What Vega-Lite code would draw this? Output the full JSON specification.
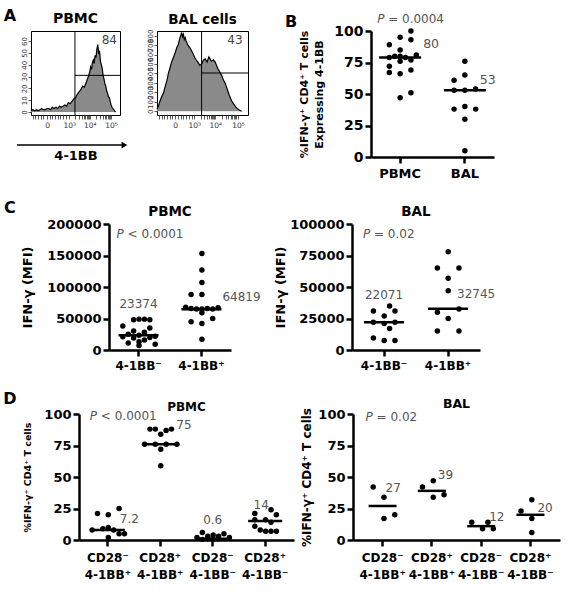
{
  "$schema": "https://vega.github.io/schema/vega-lite/v6.json",
  "padding": {"left": 2, "top": 7, "right": 3, "bottom": 3},
  "background": "white",
  "config": {
    "font": "DejaVu Sans",
    "view": {"stroke": null},
    "axis": {"grid": false, "labelOverlap": false, "labelFont": "DejaVu Sans", "labelFontWeight": "bold", "labelColor": "black", "labelFontSize": 13, "titleFont": "DejaVu Sans", "titleFontWeight": "bold", "titleColor": "black", "domainColor": "black", "domainWidth": 2.5, "tickColor": "black", "tickWidth": 2.5, "tickSize": 6, "labelPadding": 2},
    "axisX": {"labelAngle": 0},
    "title": {"font": "DejaVu Sans", "fontWeight": "bold", "color": "black"},
    "text": {"font": "DejaVu Sans"},
    "tick": {"opacity": 1}
  },
  "datasets": {
    "one": [{}],
    "none": [],
    "histPBMC": [
      {"u":0,"count":1},{"u":2,"count":2},{"u":4,"count":1},{"u":6,"count":2},{"u":8,"count":1},{"u":10,"count":2},{"u":12,"count":3},{"u":14,"count":2},{"u":16,"count":2},{"u":18,"count":3},{"u":20,"count":3},{"u":22,"count":2},{"u":24,"count":4},{"u":26,"count":3},{"u":28,"count":4},{"u":30,"count":3},{"u":32,"count":5},{"u":34,"count":4},{"u":36,"count":5},{"u":38,"count":6},{"u":40,"count":5},{"u":42,"count":8},{"u":44,"count":7},{"u":46,"count":9},{"u":48,"count":11},{"u":50,"count":12},{"u":52,"count":15},{"u":54,"count":17},{"u":56,"count":19},{"u":58,"count":22},{"u":60,"count":21},{"u":62,"count":25},{"u":64,"count":29},{"u":66,"count":34},{"u":67,"count":38},{"u":68,"count":36},{"u":69,"count":42},{"u":70,"count":44},{"u":71,"count":41},{"u":72,"count":48},{"u":73,"count":46},{"u":74,"count":53},{"u":75,"count":57},{"u":76,"count":50},{"u":77,"count":51},{"u":78,"count":43},{"u":79,"count":40},{"u":80,"count":37},{"u":81,"count":31},{"u":82,"count":28},{"u":83,"count":24},{"u":84,"count":22},{"u":85,"count":18},{"u":86,"count":16},{"u":87,"count":13},{"u":88,"count":12},{"u":89,"count":9},{"u":90,"count":6},{"u":91,"count":4},{"u":92,"count":3},{"u":93,"count":2},{"u":94,"count":1},{"u":95,"count":0}
    ],
    "histBAL": [
      {"u":0,"count":20},{"u":1.5,"count":52},{"u":3,"count":100},{"u":5,"count":150},{"u":7,"count":190},{"u":9,"count":260},{"u":11,"count":330},{"u":12.5,"count":400},{"u":14,"count":450},{"u":16,"count":520},{"u":18,"count":570},{"u":20,"count":620},{"u":22,"count":680},{"u":23.5,"count":710},{"u":25,"count":770},{"u":26,"count":800},{"u":27,"count":835},{"u":28,"count":790},{"u":29,"count":815},{"u":30,"count":760},{"u":31,"count":780},{"u":32,"count":740},{"u":34,"count":700},{"u":36,"count":675},{"u":38,"count":640},{"u":40,"count":600},{"u":41.5,"count":570},{"u":43,"count":545},{"u":45,"count":520},{"u":47,"count":485},{"u":49,"count":500},{"u":51,"count":540},{"u":53,"count":555},{"u":55,"count":520},{"u":57,"count":575},{"u":58,"count":560},{"u":60,"count":530},{"u":62,"count":545},{"u":64,"count":520},{"u":66,"count":470},{"u":67,"count":450},{"u":69,"count":415},{"u":71,"count":380},{"u":73,"count":330},{"u":75,"count":295},{"u":77,"count":240},{"u":79,"count":180},{"u":80,"count":155},{"u":82,"count":110},{"u":84,"count":80},{"u":86,"count":52},{"u":88,"count":30},{"u":90,"count":15},{"u":92,"count":5},{"u":93,"count":0}
    ],
    "gates": [{"panel":"PBMC","u":49.4,"count":31,"pct":"84"},{"panel":"BAL","u":49,"count":405,"pct":"43"}],
    "bPts": [
      {"group":"PBMC","value":100,"slot":2},{"group":"PBMC","value":95,"slot":0},{"group":"PBMC","value":93,"slot":2},{"group":"PBMC","value":89,"slot":-2},{"group":"PBMC","value":85,"slot":0},{"group":"PBMC","value":81,"slot":3},{"group":"PBMC","value":80,"slot":-1},{"group":"PBMC","value":80,"slot":0},{"group":"PBMC","value":79,"slot":-2},{"group":"PBMC","value":79,"slot":1},{"group":"PBMC","value":77,"slot":2},{"group":"PBMC","value":76,"slot":0},{"group":"PBMC","value":72,"slot":-2},{"group":"PBMC","value":69,"slot":2},{"group":"PBMC","value":67,"slot":-2},{"group":"PBMC","value":66,"slot":0},{"group":"PBMC","value":51,"slot":2},{"group":"PBMC","value":47,"slot":0},
      {"group":"BAL","value":76,"slot":0},{"group":"BAL","value":65,"slot":0},{"group":"BAL","value":61,"slot":-2},{"group":"BAL","value":54,"slot":2},{"group":"BAL","value":53,"slot":-2},{"group":"BAL","value":53,"slot":0},{"group":"BAL","value":40,"slot":0},{"group":"BAL","value":38,"slot":-2},{"group":"BAL","value":38,"slot":2},{"group":"BAL","value":30,"slot":0},{"group":"BAL","value":5,"slot":0}
    ],
    "bMed": [{"group":"PBMC","value":79,"label":"80"},{"group":"BAL","value":53,"label":"53"}],
    "cPbmcPts": [
      {"group":"4-1BB⁻","value":48000,"slot":-1},{"group":"4-1BB⁻","value":49000,"slot":0},{"group":"4-1BB⁻","value":49000,"slot":1},{"group":"4-1BB⁻","value":48000,"slot":2},{"group":"4-1BB⁻","value":38000,"slot":-3},{"group":"4-1BB⁻","value":35000,"slot":2},{"group":"4-1BB⁻","value":30000,"slot":-1},{"group":"4-1BB⁻","value":28000,"slot":1},{"group":"4-1BB⁻","value":25000,"slot":-2},{"group":"4-1BB⁻","value":23374,"slot":0},{"group":"4-1BB⁻","value":22000,"slot":3},{"group":"4-1BB⁻","value":21000,"slot":-3},{"group":"4-1BB⁻","value":20000,"slot":2},{"group":"4-1BB⁻","value":19000,"slot":-1},{"group":"4-1BB⁻","value":16000,"slot":1},{"group":"4-1BB⁻","value":13000,"slot":0},{"group":"4-1BB⁻","value":11000,"slot":-2},{"group":"4-1BB⁻","value":9000,"slot":3},{"group":"4-1BB⁻","value":7000,"slot":0},
      {"group":"4-1BB⁺","value":153000,"slot":0},{"group":"4-1BB⁺","value":127000,"slot":0},{"group":"4-1BB⁺","value":107000,"slot":0},{"group":"4-1BB⁺","value":88000,"slot":-2},{"group":"4-1BB⁺","value":88000,"slot":0},{"group":"4-1BB⁺","value":68000,"slot":-3},{"group":"4-1BB⁺","value":66000,"slot":-2},{"group":"4-1BB⁺","value":65000,"slot":-1},{"group":"4-1BB⁺","value":65000,"slot":0},{"group":"4-1BB⁺","value":66000,"slot":1},{"group":"4-1BB⁺","value":65000,"slot":2},{"group":"4-1BB⁺","value":67000,"slot":3},{"group":"4-1BB⁺","value":59000,"slot":0},{"group":"4-1BB⁺","value":50000,"slot":2},{"group":"4-1BB⁺","value":45000,"slot":-2},{"group":"4-1BB⁺","value":42000,"slot":0},{"group":"4-1BB⁺","value":17000,"slot":0}
    ],
    "cPbmcMed": [{"group":"4-1BB⁻","value":23374,"label":"23374"},{"group":"4-1BB⁺","value":64819,"label":"64819"}],
    "cBalPts": [
      {"group":"4-1BB⁻","value":35000,"slot":1},{"group":"4-1BB⁻","value":31000,"slot":-2},{"group":"4-1BB⁻","value":31000,"slot":2},{"group":"4-1BB⁻","value":27000,"slot":0},{"group":"4-1BB⁻","value":22000,"slot":2},{"group":"4-1BB⁻","value":22000,"slot":-2},{"group":"4-1BB⁻","value":21000,"slot":0},{"group":"4-1BB⁻","value":17000,"slot":1},{"group":"4-1BB⁻","value":9500,"slot":-2},{"group":"4-1BB⁻","value":7500,"slot":0},{"group":"4-1BB⁻","value":7500,"slot":2},
      {"group":"4-1BB⁺","value":78000,"slot":0},{"group":"4-1BB⁺","value":65000,"slot":-2},{"group":"4-1BB⁺","value":65000,"slot":2},{"group":"4-1BB⁺","value":57000,"slot":0},{"group":"4-1BB⁺","value":47000,"slot":0},{"group":"4-1BB⁺","value":30000,"slot":-2},{"group":"4-1BB⁺","value":32500,"slot":2},{"group":"4-1BB⁺","value":25000,"slot":0},{"group":"4-1BB⁺","value":15000,"slot":-2},{"group":"4-1BB⁺","value":15000,"slot":2}
    ],
    "cBalMed": [{"group":"4-1BB⁻","value":22071,"label":"22071"},{"group":"4-1BB⁺","value":32745,"label":"32745"}],
    "dPbmcPts": [
      {"group":"CD28⁻ 4-1BB⁺","value":25,"slot":2},{"group":"CD28⁻ 4-1BB⁺","value":21,"slot":-2},{"group":"CD28⁻ 4-1BB⁺","value":20,"slot":0},{"group":"CD28⁻ 4-1BB⁺","value":10,"slot":0},{"group":"CD28⁻ 4-1BB⁺","value":9,"slot":-1},{"group":"CD28⁻ 4-1BB⁺","value":8,"slot":-3},{"group":"CD28⁻ 4-1BB⁺","value":8,"slot":1},{"group":"CD28⁻ 4-1BB⁺","value":5,"slot":2},{"group":"CD28⁻ 4-1BB⁺","value":5,"slot":3},{"group":"CD28⁻ 4-1BB⁺","value":2,"slot":0},
      {"group":"CD28⁺ 4-1BB⁺","value":88,"slot":-2},{"group":"CD28⁺ 4-1BB⁺","value":88,"slot":-1},{"group":"CD28⁺ 4-1BB⁺","value":87,"slot":1},{"group":"CD28⁺ 4-1BB⁺","value":88,"slot":2},{"group":"CD28⁺ 4-1BB⁺","value":84,"slot":0},{"group":"CD28⁺ 4-1BB⁺","value":76,"slot":-3},{"group":"CD28⁺ 4-1BB⁺","value":76,"slot":-1},{"group":"CD28⁺ 4-1BB⁺","value":76,"slot":1},{"group":"CD28⁺ 4-1BB⁺","value":76,"slot":3},{"group":"CD28⁺ 4-1BB⁺","value":72,"slot":0},{"group":"CD28⁺ 4-1BB⁺","value":59,"slot":0},
      {"group":"CD28⁻ 4-1BB⁻","value":6,"slot":-2},{"group":"CD28⁻ 4-1BB⁻","value":5,"slot":2},{"group":"CD28⁻ 4-1BB⁻","value":4,"slot":0},{"group":"CD28⁻ 4-1BB⁻","value":3,"slot":-1},{"group":"CD28⁻ 4-1BB⁻","value":3,"slot":1},{"group":"CD28⁻ 4-1BB⁻","value":2,"slot":-3},{"group":"CD28⁻ 4-1BB⁻","value":2,"slot":3},{"group":"CD28⁻ 4-1BB⁻","value":1,"slot":-1},{"group":"CD28⁻ 4-1BB⁻","value":1,"slot":1},{"group":"CD28⁻ 4-1BB⁻","value":0.6,"slot":0},{"group":"CD28⁻ 4-1BB⁻","value":0.5,"slot":-2},
      {"group":"CD28⁺ 4-1BB⁻","value":24,"slot":1},{"group":"CD28⁺ 4-1BB⁻","value":21,"slot":-2},{"group":"CD28⁺ 4-1BB⁻","value":20,"slot":2},{"group":"CD28⁺ 4-1BB⁻","value":16,"slot":-2},{"group":"CD28⁺ 4-1BB⁻","value":16,"slot":0},{"group":"CD28⁺ 4-1BB⁻","value":14,"slot":1},{"group":"CD28⁺ 4-1BB⁻","value":11,"slot":-2},{"group":"CD28⁺ 4-1BB⁻","value":8,"slot":-1},{"group":"CD28⁺ 4-1BB⁻","value":7,"slot":0},{"group":"CD28⁺ 4-1BB⁻","value":7,"slot":1},{"group":"CD28⁺ 4-1BB⁻","value":7,"slot":2}
    ],
    "dPbmcMed": [{"group":"CD28⁻ 4-1BB⁺","value":8,"label":"7.2"},{"group":"CD28⁺ 4-1BB⁺","value":76,"label":"75"},{"group":"CD28⁻ 4-1BB⁻","value":1,"label":"0.6"},{"group":"CD28⁺ 4-1BB⁻","value":15,"label":"14"}],
    "dBalPts": [
      {"group":"CD28⁻ 4-1BB⁺","value":42,"slot":-2},{"group":"CD28⁻ 4-1BB⁺","value":34,"slot":0},{"group":"CD28⁻ 4-1BB⁺","value":20,"slot":2},{"group":"CD28⁻ 4-1BB⁺","value":17,"slot":0},
      {"group":"CD28⁺ 4-1BB⁺","value":42,"slot":-2},{"group":"CD28⁺ 4-1BB⁺","value":47,"slot":0},{"group":"CD28⁺ 4-1BB⁺","value":34,"slot":0},{"group":"CD28⁺ 4-1BB⁺","value":36,"slot":2},
      {"group":"CD28⁻ 4-1BB⁻","value":14,"slot":-2},{"group":"CD28⁻ 4-1BB⁻","value":9,"slot":0},{"group":"CD28⁻ 4-1BB⁻","value":14,"slot":1},{"group":"CD28⁻ 4-1BB⁻","value":9,"slot":2},
      {"group":"CD28⁺ 4-1BB⁻","value":23,"slot":-2},{"group":"CD28⁺ 4-1BB⁻","value":32,"slot":0},{"group":"CD28⁺ 4-1BB⁻","value":17,"slot":0},{"group":"CD28⁺ 4-1BB⁻","value":6,"slot":0}
    ],
    "dBalMed": [{"group":"CD28⁻ 4-1BB⁺","value":27,"label":"27"},{"group":"CD28⁺ 4-1BB⁺","value":39,"label":"39"},{"group":"CD28⁻ 4-1BB⁻","value":11,"label":"12"},{"group":"CD28⁺ 4-1BB⁻","value":20,"label":"20"}]
  },
  "spacing": 20,
  "vconcat": [
    {
      "spacing": 0,
      "hconcat": [
        {"width": 1, "height": 1, "data": {"name": "none"}, "mark": {"type": "point"}, "encoding": {}},
        {
          "spacing": 36,
          "hconcat": [
            {
              "spacing": 17,
              "hconcat": [
                {
                  "width": 89, "height": 84,
                  "title": {"text": "PBMC", "fontSize": 14, "offset": -18},
                  "view": {"stroke": "black", "strokeWidth": 1},
                  "resolve": {"axis": {"x": "independent", "y": "independent"}},
                  "layer": [
                    {
                      "encoding": {
                        "x": {"field": "u", "type": "quantitative", "scale": {"domain": [0, 100], "nice": false},
                              "axis": {"title": "4-1BB", "titleFontSize": 13, "titlePadding": 21, "values": [2,5,8,11,14,18,21,24,27,30,33,36,39,43,49.9,54,56.8,59.1,60.9,62.4,63.8,64.9,66,73.2,77.5,80.4,82.8,84.7,86.3,87.7,88.9,90], "labelExpr": "datum.value == 18 ? '0' : datum.value == 43 ? '10³' : datum.value == 66 ? '10⁴' : datum.value == 90 ? '10⁵' : ''", "domain": false, "tickSize": 4, "tickWidth": 0.8, "tickColor": "#333", "labelFontSize": 7.5, "labelFontWeight": "normal", "labelColor": "#333", "labelPadding": 2}},
                        "y": {"field": "count", "type": "quantitative", "scale": {"domain": [-2.5, 68.5], "nice": false, "zero": false},
                              "axis": {"title": null, "values": [0,10,20,30,40,50,60], "labelAngle": -90, "labelFontSize": 7, "labelFontWeight": "normal", "labelColor": "#333", "domain": false, "tickSize": 3, "tickWidth": 0.8, "tickColor": "#333", "labelPadding": 1}}
                      },
                      "layer": [
                        {"data": {"name": "histPBMC"}, "mark": {"type": "area", "color": "#8a8a8a"}},
                        {"data": {"name": "histPBMC"}, "mark": {"type": "line", "color": "black", "strokeWidth": 1.2}},
                        {"data": {"name": "gates"}, "transform": [{"filter": "datum.panel == 'PBMC'"}], "mark": {"type": "rule", "color": "black", "strokeWidth": 1},
                         "encoding": {"x2": {"datum": 100}}},
                        {"data": {"name": "gates"}, "transform": [{"filter": "datum.panel == 'PBMC'"}], "mark": {"type": "text", "align": "right", "baseline": "middle", "dx": 42, "dy": -35, "fontSize": 12, "color": "#444"},
                         "encoding": {"text": {"field": "pct"}}}
                      ]
                    },
                    {
                      "layer": [
                        {"data": {"name": "gates"}, "transform": [{"filter": "datum.panel == 'PBMC'"}], "mark": {"type": "rule", "color": "black", "strokeWidth": 1},
                         "encoding": {"x": {"field": "u", "type": "quantitative", "axis": null}, "y": {"datum": -2.5, "type": "quantitative", "axis": null}, "y2": {"datum": 68.5}}},
                        {"data": {"name": "one"}, "mark": {"type": "rule", "color": "black", "strokeWidth": 1.6},
                         "encoding": {"x": {"datum": -15.7, "type": "quantitative", "axis": null}, "x2": {"datum": 104}, "y": {"datum": -27.9, "type": "quantitative", "axis": null}}},
                        {"data": {"name": "one"}, "mark": {"type": "point", "shape": "triangle-right", "filled": true, "size": 45, "color": "black", "opacity": 1},
                         "encoding": {"x": {"datum": 105, "type": "quantitative", "axis": null}, "y": {"datum": -27.9, "type": "quantitative", "axis": null}}},
                        {"data": {"name": "one"}, "mark": {"type": "text", "text": "A", "align": "center", "baseline": "middle", "dx": -21, "dy": -15, "fontSize": 16, "fontWeight": "bold", "color": "black"},
                         "encoding": {"x": {"datum": 0, "type": "quantitative", "axis": null}, "y": {"datum": 68.5, "type": "quantitative", "axis": null}}}
                      ]
                    }
                  ]
                },
                {
                  "width": 91, "height": 84,
                  "title": {"text": "BAL cells", "fontSize": 13.5, "offset": 3},
                  "view": {"stroke": "black", "strokeWidth": 1},
                  "resolve": {"axis": {"x": "independent", "y": "independent"}},
                  "layer": [
                    {
                      "encoding": {
                        "x": {"field": "u", "type": "quantitative", "scale": {"domain": [0, 100], "nice": false},
                              "axis": {"title": null, "values": [2,5,8,11,14,17,20,23,26,29,32,35,38,41,47.9,52,54.8,57.1,58.9,60.4,61.8,62.9,64,71.2,75.5,78.4,80.8,82.7,84.3,85.7,86.9,89], "labelExpr": "datum.value == 20 ? '0' : datum.value == 41 ? '10³' : datum.value == 64 ? '10⁴' : datum.value == 89 ? '10⁵' : ''", "domain": false, "tickSize": 4, "tickWidth": 0.8, "tickColor": "#333", "labelFontSize": 7.5, "labelFontWeight": "normal", "labelColor": "#333", "labelPadding": 2}},
                        "y": {"field": "count", "type": "quantitative", "scale": {"domain": [-40, 850], "nice": false, "zero": false},
                              "axis": {"title": null, "values": [0,100,200,300,400,500,600,700,800], "labelAngle": -90, "labelFontSize": 7, "labelFontWeight": "normal", "labelColor": "#333", "domain": false, "tickSize": 3, "tickWidth": 0.8, "tickColor": "#333", "labelPadding": 1}}
                      },
                      "layer": [
                        {"data": {"name": "histBAL"}, "mark": {"type": "area", "color": "#8a8a8a"}},
                        {"data": {"name": "histBAL"}, "mark": {"type": "line", "color": "black", "strokeWidth": 1.2}},
                        {"data": {"name": "gates"}, "transform": [{"filter": "datum.panel == 'BAL'"}], "mark": {"type": "rule", "color": "black", "strokeWidth": 1},
                         "encoding": {"x2": {"datum": 100}}},
                        {"data": {"name": "gates"}, "transform": [{"filter": "datum.panel == 'BAL'"}], "mark": {"type": "text", "align": "right", "baseline": "middle", "dx": 41, "dy": -33, "fontSize": 12, "color": "#444"},
                         "encoding": {"text": {"field": "pct"}}}
                      ]
                    },
                    {
                      "layer": [
                        {"data": {"name": "gates"}, "transform": [{"filter": "datum.panel == 'BAL'"}], "mark": {"type": "rule", "color": "black", "strokeWidth": 1},
                         "encoding": {"x": {"field": "u", "type": "quantitative", "axis": null}, "y": {"datum": -40, "type": "quantitative", "axis": null}, "y2": {"datum": 850}}}
                      ]
                    }
                  ]
                }
              ]
            },
            {
              "width": 123, "height": 126,
              "resolve": {"axis": {"x": "independent", "y": "independent"}},
              "layer": [
                {
                  "encoding": {
                    "x": {"field": "group", "type": "nominal", "scale": {"domain": ["PBMC", "BAL"], "paddingInner": 0.5, "paddingOuter": 0.2}, "axis": {"title": null, "labelPadding": 4}},
                    "y": {"field": "value", "type": "quantitative", "scale": {"domain": [0, 100], "nice": false},
                          "axis": {"values": [0, 25, 50, 75, 100], "labelFontSize": 14, "title": ["%IFN-γ⁺ CD4⁺ T cells", "Expressing 4-1BB"], "titleFontSize": 11, "titlePadding": 9, "titleLineHeight": 15}}
                  },
                  "layer": [
                    {"data": {"name": "bPts"}, "mark": {"type": "point", "filled": true, "size": 30, "color": "black", "opacity": 1},
                     "encoding": {"xOffset": {"field": "slot", "type": "quantitative", "scale": {"domain": [-3, 3]}}}},
                    {"data": {"name": "bMed"}, "mark": {"type": "tick", "thickness": 2.5, "size": 42, "color": "black", "opacity": 1}},
                    {"data": {"name": "bMed"}, "transform": [{"filter": "datum.label == '80'"}], "mark": {"type": "text", "align": "left", "baseline": "middle", "dx": 23, "dy": -13, "fontSize": 12.5, "color": "#555"},
                     "encoding": {"text": {"field": "label"}}},
                    {"data": {"name": "bMed"}, "transform": [{"filter": "datum.label == '53'"}], "mark": {"type": "text", "align": "left", "baseline": "middle", "dx": 15, "dy": -10, "fontSize": 12.5, "color": "#555"},
                     "encoding": {"text": {"field": "label"}}}
                  ]
                },
                {
                  "layer": [
                    {"data": {"name": "one"}, "mark": {"type": "text", "text": "P", "fontStyle": "italic", "align": "left", "baseline": "middle", "dx": -23, "dy": -12, "fontSize": 12, "color": "#555"},
                     "encoding": {"x": {"datum": "PBMC", "type": "nominal", "axis": null}, "y": {"datum": 100, "type": "quantitative", "axis": null}}},
                    {"data": {"name": "one"}, "mark": {"type": "text", "text": "= 0.0004", "align": "left", "baseline": "middle", "dx": -12, "dy": -12, "fontSize": 12, "color": "#555"},
                     "encoding": {"x": {"datum": "PBMC", "type": "nominal", "axis": null}, "y": {"datum": 100, "type": "quantitative", "axis": null}}},
                    {"data": {"name": "one"}, "mark": {"type": "text", "text": "B", "align": "center", "baseline": "middle", "dx": -109, "dy": -9, "fontSize": 16, "fontWeight": "bold", "color": "black"},
                     "encoding": {"x": {"datum": "PBMC", "type": "nominal", "axis": null}, "y": {"datum": 100, "type": "quantitative", "axis": null}}}
                  ]
                }
              ]
            }
          ]
        }
      ]
    },
    {
      "spacing": 0,
      "hconcat": [
        {"width": 1, "height": 1, "data": {"name": "none"}, "mark": {"type": "point"}, "encoding": {}},
        {
          "spacing": 13,
          "hconcat": [
            {
              "width": 122, "height": 126,
              "title": {"text": "PBMC", "fontSize": 13.5, "offset": -18},
              "resolve": {"axis": {"x": "independent", "y": "independent"}},
              "layer": [
                {
                  "encoding": {
                    "x": {"field": "group", "type": "nominal", "scale": {"domain": ["4-1BB⁻", "4-1BB⁺"], "paddingInner": 0.5, "paddingOuter": 0.22}, "axis": {"title": null, "labelPadding": 4, "labelFontSize": 12}},
                    "y": {"field": "value", "type": "quantitative", "scale": {"domain": [0, 200000], "nice": false},
                          "axis": {"values": [0, 50000, 100000, 150000, 200000], "format": "d", "title": "IFN-γ (MFI)", "titleFontSize": 13, "titlePadding": 12}}
                  },
                  "layer": [
                    {"data": {"name": "cPbmcPts"}, "mark": {"type": "point", "filled": true, "size": 30, "color": "black", "opacity": 1},
                     "encoding": {"xOffset": {"field": "slot", "type": "quantitative", "scale": {"domain": [-3, 3]}}}},
                    {"data": {"name": "cPbmcMed"}, "mark": {"type": "tick", "thickness": 2.5, "size": 40, "color": "black", "opacity": 1}},
                    {"data": {"name": "cPbmcMed"}, "transform": [{"filter": "datum.label == '23374'"}], "mark": {"type": "text", "align": "center", "baseline": "middle", "dy": -31, "fontSize": 12, "color": "#555"},
                     "encoding": {"text": {"field": "label"}}},
                    {"data": {"name": "cPbmcMed"}, "transform": [{"filter": "datum.label == '64819'"}], "mark": {"type": "text", "align": "left", "baseline": "middle", "dx": 21, "dy": -12, "fontSize": 12, "color": "#555"},
                     "encoding": {"text": {"field": "label"}}}
                  ]
                },
                {
                  "layer": [
                    {"data": {"name": "one"}, "mark": {"type": "text", "text": "P", "fontStyle": "italic", "align": "left", "baseline": "middle", "dx": -22, "dy": 10, "fontSize": 12, "color": "#555"},
                     "encoding": {"x": {"datum": "4-1BB⁻", "type": "nominal", "axis": null}, "y": {"datum": 200000, "type": "quantitative", "axis": null}}},
                    {"data": {"name": "one"}, "mark": {"type": "text", "text": "< 0.0001", "align": "left", "baseline": "middle", "dx": -11, "dy": 10, "fontSize": 12, "color": "#555"},
                     "encoding": {"x": {"datum": "4-1BB⁻", "type": "nominal", "axis": null}, "y": {"datum": 200000, "type": "quantitative", "axis": null}}},
                    {"data": {"name": "one"}, "mark": {"type": "text", "text": "C", "align": "center", "baseline": "middle", "dx": -128.7, "dy": -16, "fontSize": 16, "fontWeight": "bold", "color": "black"},
                     "encoding": {"x": {"datum": "4-1BB⁻", "type": "nominal", "axis": null}, "y": {"datum": 200000, "type": "quantitative", "axis": null}}}
                  ]
                }
              ]
            },
            {
              "width": 128, "height": 126,
              "title": {"text": "BAL", "fontSize": 13.5, "offset": 0},
              "resolve": {"axis": {"x": "independent", "y": "independent"}},
              "layer": [
                {
                  "encoding": {
                    "x": {"field": "group", "type": "nominal", "scale": {"domain": ["4-1BB⁻", "4-1BB⁺"], "paddingInner": 0.5, "paddingOuter": 0.25}, "axis": {"title": null, "labelPadding": 4, "labelFontSize": 12}},
                    "y": {"field": "value", "type": "quantitative", "scale": {"domain": [0, 100000], "nice": false},
                          "axis": {"values": [0, 25000, 50000, 75000, 100000], "format": "d", "title": "IFN-γ (MFI)", "titleFontSize": 13, "titlePadding": 2}}
                  },
                  "layer": [
                    {"data": {"name": "cBalPts"}, "mark": {"type": "point", "filled": true, "size": 30, "color": "black", "opacity": 1},
                     "encoding": {"xOffset": {"field": "slot", "type": "quantitative", "scale": {"domain": [-3, 3]}}}},
                    {"data": {"name": "cBalMed"}, "mark": {"type": "tick", "thickness": 2.5, "size": 40, "color": "black", "opacity": 1}},
                    {"data": {"name": "cBalMed"}, "transform": [{"filter": "datum.label == '22071'"}], "mark": {"type": "text", "align": "center", "baseline": "middle", "dy": -27, "fontSize": 12, "color": "#555"},
                     "encoding": {"text": {"field": "label"}}},
                    {"data": {"name": "cBalMed"}, "transform": [{"filter": "datum.label == '32745'"}], "mark": {"type": "text", "align": "left", "baseline": "middle", "dx": 9, "dy": -15, "fontSize": 12, "color": "#555"},
                     "encoding": {"text": {"field": "label"}}}
                  ]
                },
                {
                  "layer": [
                    {"data": {"name": "one"}, "mark": {"type": "text", "text": "P", "fontStyle": "italic", "align": "left", "baseline": "middle", "dx": -21, "dy": 10, "fontSize": 12, "color": "#555"},
                     "encoding": {"x": {"datum": "4-1BB⁻", "type": "nominal", "axis": null}, "y": {"datum": 100000, "type": "quantitative", "axis": null}}},
                    {"data": {"name": "one"}, "mark": {"type": "text", "text": "= 0.02", "align": "left", "baseline": "middle", "dx": -10, "dy": 10, "fontSize": 12, "color": "#555"},
                     "encoding": {"x": {"datum": "4-1BB⁻", "type": "nominal", "axis": null}, "y": {"datum": 100000, "type": "quantitative", "axis": null}}}
                  ]
                }
              ]
            }
          ]
        }
      ]
    },
    {
      "spacing": 0,
      "hconcat": [
        {"width": 1, "height": 1, "data": {"name": "none"}, "mark": {"type": "point"}, "encoding": {}},
        {
          "spacing": 6,
          "hconcat": [
            {
              "width": 215, "height": 126,
              "title": {"text": "PBMC", "fontSize": 12, "offset": -23},
              "resolve": {"axis": {"x": "independent", "y": "independent"}},
              "layer": [
                {
                  "encoding": {
                    "x": {"field": "group", "type": "nominal", "scale": {"domain": ["CD28⁻ 4-1BB⁺", "CD28⁺ 4-1BB⁺", "CD28⁻ 4-1BB⁻", "CD28⁺ 4-1BB⁻"], "paddingInner": 0.4, "paddingOuter": 0.25}, "axis": {"title": null, "labelPadding": 6, "labelFontSize": 12, "labelExpr": "split(datum.label, ' ')", "labelLineHeight": 17}},
                    "y": {"field": "value", "type": "quantitative", "scale": {"domain": [0, 100], "nice": false},
                          "axis": {"values": [0, 25, 50, 75, 100], "title": "%IFN-γ⁺ CD4⁺ T cells", "titleFontSize": 9.5, "titlePadding": 11}}
                  },
                  "layer": [
                    {"data": {"name": "dPbmcPts"}, "mark": {"type": "point", "filled": true, "size": 30, "color": "black", "opacity": 1},
                     "encoding": {"xOffset": {"field": "slot", "type": "quantitative", "scale": {"domain": [-3, 3]}}}},
                    {"data": {"name": "dPbmcMed"}, "mark": {"type": "tick", "thickness": 2.5, "size": 34, "color": "black", "opacity": 1}},
                    {"data": {"name": "dPbmcMed"}, "transform": [{"filter": "datum.label == '7.2'"}], "mark": {"type": "text", "align": "left", "baseline": "middle", "dx": 12, "dy": -11, "fontSize": 12, "color": "#555"},
                     "encoding": {"text": {"field": "label"}}},
                    {"data": {"name": "dPbmcMed"}, "transform": [{"filter": "datum.label == '75'"}], "mark": {"type": "text", "align": "left", "baseline": "middle", "dx": 16, "dy": -19, "fontSize": 12, "color": "#555"},
                     "encoding": {"text": {"field": "label"}}},
                    {"data": {"name": "dPbmcMed"}, "transform": [{"filter": "datum.label == '0.6'"}], "mark": {"type": "text", "align": "center", "baseline": "middle", "dy": -19, "fontSize": 12, "color": "#555"},
                     "encoding": {"text": {"field": "label"}}},
                    {"data": {"name": "dPbmcMed"}, "transform": [{"filter": "datum.label == '14'"}], "mark": {"type": "text", "align": "center", "baseline": "middle", "dx": -4, "dy": -16, "fontSize": 12, "color": "#555"},
                     "encoding": {"text": {"field": "label"}}}
                  ]
                },
                {
                  "layer": [
                    {"data": {"name": "one"}, "mark": {"type": "text", "text": "P", "fontStyle": "italic", "align": "left", "baseline": "middle", "dx": -18, "dy": 2, "fontSize": 12, "color": "#555"},
                     "encoding": {"x": {"datum": "CD28⁻ 4-1BB⁺", "type": "nominal", "axis": null}, "y": {"datum": 100, "type": "quantitative", "axis": null}}},
                    {"data": {"name": "one"}, "mark": {"type": "text", "text": "< 0.0001", "align": "left", "baseline": "middle", "dx": -7, "dy": 2, "fontSize": 12, "color": "#555"},
                     "encoding": {"x": {"datum": "CD28⁻ 4-1BB⁺", "type": "nominal", "axis": null}, "y": {"datum": 100, "type": "quantitative", "axis": null}}},
                    {"data": {"name": "one"}, "mark": {"type": "text", "text": "D", "align": "center", "baseline": "middle", "dx": -98, "dy": -15, "fontSize": 16, "fontWeight": "bold", "color": "black"},
                     "encoding": {"x": {"datum": "CD28⁻ 4-1BB⁺", "type": "nominal", "axis": null}, "y": {"datum": 100, "type": "quantitative", "axis": null}}}
                  ]
                }
              ]
            },
            {
              "width": 207, "height": 126,
              "title": {"text": "BAL", "fontSize": 12.5, "offset": -3},
              "resolve": {"axis": {"x": "independent", "y": "independent"}},
              "layer": [
                {
                  "encoding": {
                    "x": {"field": "group", "type": "nominal", "scale": {"domain": ["CD28⁻ 4-1BB⁺", "CD28⁺ 4-1BB⁺", "CD28⁻ 4-1BB⁻", "CD28⁺ 4-1BB⁻"], "paddingInner": 0.4, "paddingOuter": 0.3}, "axis": {"title": null, "labelPadding": 6, "labelFontSize": 12, "labelExpr": "split(datum.label, ' ')", "labelLineHeight": 17}},
                    "y": {"field": "value", "type": "quantitative", "scale": {"domain": [0, 100], "nice": false},
                          "axis": {"values": [0, 25, 50, 75, 100], "title": "%IFN-γ⁺ CD4⁺ T cells", "titleFontSize": 12, "titlePadding": 4}}
                  },
                  "layer": [
                    {"data": {"name": "dBalPts"}, "mark": {"type": "point", "filled": true, "size": 30, "color": "black", "opacity": 1},
                     "encoding": {"xOffset": {"field": "slot", "type": "quantitative", "scale": {"domain": [-2.5, 2.5]}}}},
                    {"data": {"name": "dBalMed"}, "mark": {"type": "tick", "thickness": 2.5, "size": 28, "color": "black", "opacity": 1}},
                    {"data": {"name": "dBalMed"}, "transform": [{"filter": "datum.label == '27'"}], "mark": {"type": "text", "align": "left", "baseline": "middle", "dx": 3, "dy": -18, "fontSize": 12, "color": "#555"},
                     "encoding": {"text": {"field": "label"}}},
                    {"data": {"name": "dBalMed"}, "transform": [{"filter": "datum.label == '39'"}], "mark": {"type": "text", "align": "left", "baseline": "middle", "dx": 6, "dy": -16, "fontSize": 12, "color": "#555"},
                     "encoding": {"text": {"field": "label"}}},
                    {"data": {"name": "dBalMed"}, "transform": [{"filter": "datum.label == '12'"}], "mark": {"type": "text", "align": "left", "baseline": "middle", "dx": 8, "dy": -9, "fontSize": 12, "color": "#555"},
                     "encoding": {"text": {"field": "label"}}},
                    {"data": {"name": "dBalMed"}, "transform": [{"filter": "datum.label == '20'"}], "mark": {"type": "text", "align": "left", "baseline": "middle", "dx": 7, "dy": -7, "fontSize": 12, "color": "#555"},
                     "encoding": {"text": {"field": "label"}}}
                  ]
                },
                {
                  "layer": [
                    {"data": {"name": "one"}, "mark": {"type": "text", "text": "P", "fontStyle": "italic", "align": "left", "baseline": "middle", "dx": -17, "dy": 3, "fontSize": 12, "color": "#555"},
                     "encoding": {"x": {"datum": "CD28⁻ 4-1BB⁺", "type": "nominal", "axis": null}, "y": {"datum": 100, "type": "quantitative", "axis": null}}},
                    {"data": {"name": "one"}, "mark": {"type": "text", "text": "= 0.02", "align": "left", "baseline": "middle", "dx": -6, "dy": 3, "fontSize": 12, "color": "#555"},
                     "encoding": {"x": {"datum": "CD28⁻ 4-1BB⁺", "type": "nominal", "axis": null}, "y": {"datum": 100, "type": "quantitative", "axis": null}}}
                  ]
                }
              ]
            }
          ]
        }
      ]
    }
  ]
}
